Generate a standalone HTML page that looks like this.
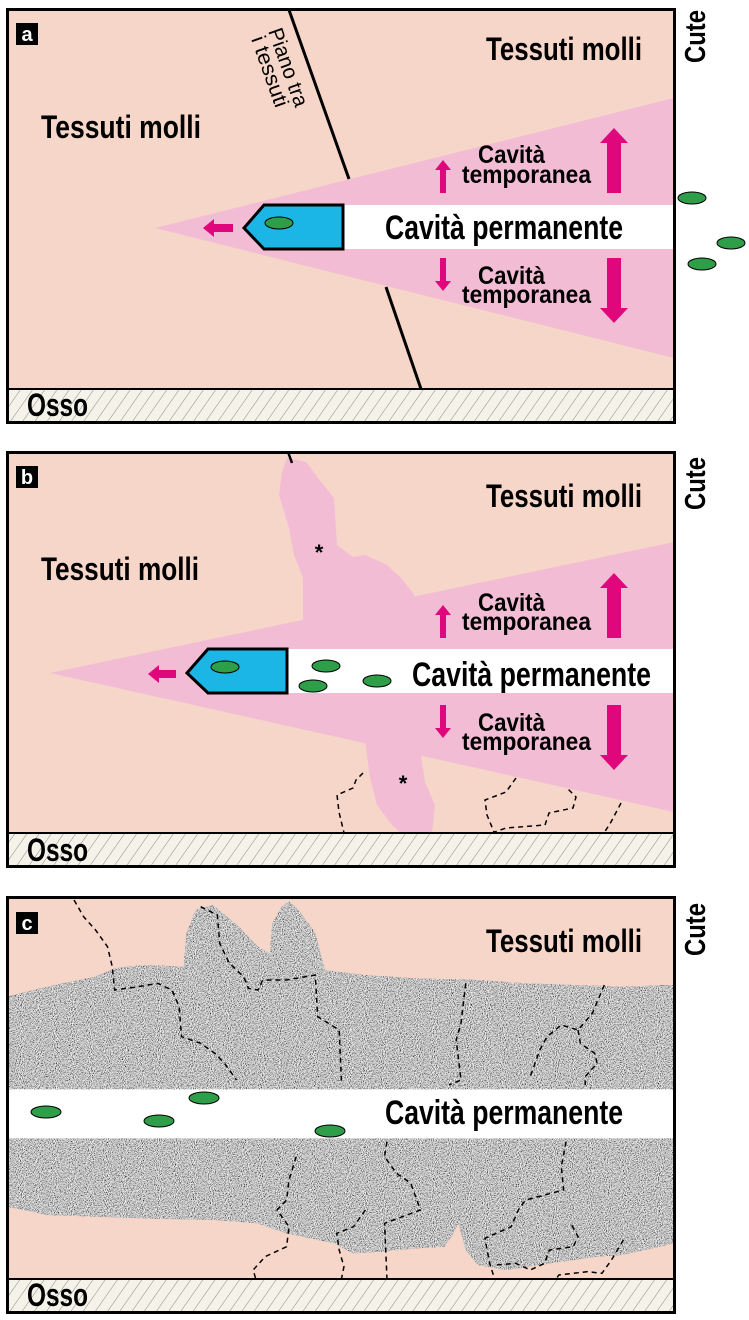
<!DOCTYPE html>
<html><head><meta charset="utf-8"><style>
html,body{margin:0;padding:0;background:#fff;}
svg{display:block;}
text{font-family:"Liberation Sans Narrow","Liberation Sans",sans-serif;font-weight:bold;fill:#000;}
</style></head><body>
<svg width="749" height="1320" viewBox="0 0 749 1320" xmlns="http://www.w3.org/2000/svg">
<defs>
<pattern id="h" width="10" height="10" patternUnits="userSpaceOnUse" patternTransform="rotate(35)">
<rect width="10" height="10" fill="#f5f3e9"/><line x1="0" y1="0" x2="0" y2="10" stroke="#8a8a80" stroke-width="1"/>
</pattern>
<filter id="n" x="0" y="0" width="100%" height="100%">
<feTurbulence type="fractalNoise" baseFrequency="0.45" numOctaves="2" seed="3" result="t"/>
<feColorMatrix in="t" type="matrix" values="2.2 0 0 0 -0.55  2.2 0 0 0 -0.55  2.2 0 0 0 -0.55  0 0 0 0 1" result="g"/>
<feComposite in="g" in2="SourceGraphic" operator="in"/>
</filter>
<g id="arrowsUp">
<polygon points="600,143 614,128 628,143 621,143 621,193 607,193 607,143" fill="#e0077d"/>
<polygon points="435,170 443,160 451,170 446,170 446,193 440,193 440,170" fill="#e0077d"/>
</g>
</defs>

<!-- ========== PANEL A ========== -->
<rect x="7.5" y="9.5" width="667" height="413" fill="#f6d6c8"/>
<polygon points="155,228 674,98 674,358" fill="#f3bcd5"/>
<rect x="343" y="205" width="331" height="44" fill="#fff"/>
<line x1="289" y1="10" x2="349" y2="179" stroke="#000" stroke-width="3"/>
<line x1="386" y1="287" x2="421" y2="389" stroke="#000" stroke-width="3"/>
<polygon points="244,228 264,205 343,205 343,249 264,249" fill="#1cb6e6" stroke="#000" stroke-width="3"/>
<ellipse cx="279" cy="223" rx="14" ry="6" fill="#2e9e48" stroke="#000" stroke-width="1"/>
<polygon points="203,228 214,219 214,224 233,224 233,232 214,232 214,237" fill="#e0077d"/>
<use href="#arrowsUp"/>
<polygon points="600,308 614,323 628,308 621,308 621,258 607,258 607,308" fill="#e0077d"/>
<polygon points="435,281 443,291 451,281 446,281 446,258 440,258 440,281" fill="#e0077d"/>
<rect x="7" y="389" width="668" height="33" fill="url(#h)" stroke="#000" stroke-width="2"/>
<rect x="7.5" y="9.5" width="667" height="413" fill="none" stroke="#000" stroke-width="3"/>
<rect x="16" y="23" width="22" height="22" fill="#000"/>
<text x="27" y="41" font-size="20" text-anchor="middle" style="fill:#fff">a</text>
<text x="486" y="60" font-size="32" textLength="156" lengthAdjust="spacingAndGlyphs">Tessuti molli</text>
<text x="41" y="138" font-size="32" textLength="160" lengthAdjust="spacingAndGlyphs">Tessuti molli</text>
<text x="385" y="239" font-size="34" textLength="238" lengthAdjust="spacingAndGlyphs">Cavità permanente</text>
<text x="478" y="163" font-size="25" textLength="67" lengthAdjust="spacingAndGlyphs">Cavità</text>
<text x="462" y="183" font-size="25" textLength="129" lengthAdjust="spacingAndGlyphs">temporanea</text>
<text x="478" y="284" font-size="25" textLength="67" lengthAdjust="spacingAndGlyphs">Cavità</text>
<text x="462" y="303" font-size="25" textLength="129" lengthAdjust="spacingAndGlyphs">temporanea</text>
<text x="27" y="416" font-size="32" textLength="61" lengthAdjust="spacingAndGlyphs">Osso</text>
<text x="705" y="63" font-size="29" textLength="53" lengthAdjust="spacingAndGlyphs" transform="rotate(-90 705 63)">Cute</text>
<text x="268" y="31" font-size="21" style="font-weight:normal" textLength="82" lengthAdjust="spacingAndGlyphs" transform="rotate(70.5 268 31)">Piano tra</text>
<text x="251" y="39" font-size="21" style="font-weight:normal" textLength="74" lengthAdjust="spacingAndGlyphs" transform="rotate(70.5 251 39)">i tessuti</text>
<ellipse cx="692" cy="198" rx="14" ry="6" fill="#2e9e48" stroke="#000" stroke-width="1"/>
<ellipse cx="731" cy="243" rx="14" ry="6" fill="#2e9e48" stroke="#000" stroke-width="1"/>
<ellipse cx="702" cy="264" rx="14" ry="6" fill="#2e9e48" stroke="#000" stroke-width="1"/>

<!-- ========== PANEL B ========== -->
<rect x="7.5" y="452.5" width="667" height="414" fill="#f6d6c8"/>
<polygon points="50,673 674,542 674,812" fill="#f3bcd5"/>
<polygon points="287,458 306,462 318,478 334,498 337,545 353,557 365,555 387,565 401,578 413,593 420,610 303,630 303,578 294,555 289,528 279,495 282,472" fill="#f3bcd5"/>
<polygon points="365,740 370,778 377,805 392,825 401,833 432,833 435,805 425,782 420,750" fill="#f3bcd5"/>
<rect x="287" y="649" width="387" height="44" fill="#fff"/>
<line x1="288" y1="452" x2="292" y2="463" stroke="#000" stroke-width="2.5"/>
<polygon points="187,673 208,649 287,649 287,693 208,693" fill="#1cb6e6" stroke="#000" stroke-width="3"/>
<ellipse cx="225" cy="667" rx="14" ry="6" fill="#2e9e48" stroke="#000" stroke-width="1"/>
<ellipse cx="326" cy="666" rx="14" ry="6" fill="#2e9e48" stroke="#000" stroke-width="1"/>
<ellipse cx="313" cy="686" rx="14" ry="6" fill="#2e9e48" stroke="#000" stroke-width="1"/>
<ellipse cx="377" cy="681" rx="14" ry="6" fill="#2e9e48" stroke="#000" stroke-width="1"/>
<polygon points="148,674 159,665 159,670 176,670 176,678 159,678 159,683" fill="#e0077d"/>
<g transform="translate(0,445)"><use href="#arrowsUp"/>
<polygon points="600,310 614,325 628,310 621,310 621,260 607,260 607,310" fill="#e0077d"/>
<polygon points="435,283 443,293 451,283 446,283 446,260 440,260 440,283" fill="#e0077d"/>
</g>
<g fill="none" stroke="#000" stroke-width="1.5" stroke-dasharray="5 4">
<polyline points="363,773 356,780 353,788 337,795 339,812 344,833"/>
<polyline points="516,778 506,792 485,800 487,815 494,832"/>
<polyline points="492,833 506,828 545,825 549,813 573,808 576,797 566,787"/>
<polyline points="621,803 611,822 604,833"/>
</g>
<text x="319" y="560" font-size="22" text-anchor="middle">*</text>
<text x="403" y="791" font-size="22" text-anchor="middle">*</text>
<rect x="7" y="833" width="668" height="34" fill="url(#h)" stroke="#000" stroke-width="2"/>
<rect x="7.5" y="452.5" width="667" height="414" fill="none" stroke="#000" stroke-width="3"/>
<rect x="16" y="466" width="22" height="22" fill="#000"/>
<text x="27" y="484" font-size="20" text-anchor="middle" style="fill:#fff">b</text>
<text x="486" y="507" font-size="32" textLength="156" lengthAdjust="spacingAndGlyphs">Tessuti molli</text>
<text x="41" y="580" font-size="32" textLength="158" lengthAdjust="spacingAndGlyphs">Tessuti molli</text>
<text x="412" y="686" font-size="34" textLength="239" lengthAdjust="spacingAndGlyphs">Cavità permanente</text>
<text x="478" y="611" font-size="25" textLength="67" lengthAdjust="spacingAndGlyphs">Cavità</text>
<text x="462" y="630" font-size="25" textLength="129" lengthAdjust="spacingAndGlyphs">temporanea</text>
<text x="478" y="731" font-size="25" textLength="67" lengthAdjust="spacingAndGlyphs">Cavità</text>
<text x="462" y="750" font-size="25" textLength="129" lengthAdjust="spacingAndGlyphs">temporanea</text>
<text x="27" y="861" font-size="32" textLength="61" lengthAdjust="spacingAndGlyphs">Osso</text>
<text x="705" y="510" font-size="29" textLength="53" lengthAdjust="spacingAndGlyphs" transform="rotate(-90 705 510)">Cute</text>

<!-- ========== PANEL C ========== -->
<rect x="7.5" y="897.5" width="667" height="415" fill="#f6d6c8"/>
<g transform="translate(0,890) scale(0.4777,0.33333)">
<polygon fill="#909090" points="15,320 100,290 200,260 240,235 300,225 385,230 390,130 410,60 445,45 470,75 500,110 540,170 565,190 570,100 590,50 605,35 625,60 660,130 680,240 760,255 870,265 1000,270 1100,280 1200,285 1300,290 1410,285 1410,1060 1350,1080 1300,1095 1250,1100 1150,1120 1060,1140 1000,1125 975,1080 960,1000 945,1040 930,1070 870,1075 800,1085 740,1090 700,1060 600,1030 540,1000 450,990 300,985 100,975 15,950"/>
<polygon filter="url(#n)" fill="#fff" points="15,320 100,290 200,260 240,235 300,225 385,230 390,130 410,60 445,45 470,75 500,110 540,170 565,190 570,100 590,50 605,35 625,60 660,130 680,240 760,255 870,265 1000,270 1100,280 1200,285 1300,290 1410,285 1410,1060 1350,1080 1300,1095 1250,1100 1150,1120 1060,1140 1000,1125 975,1080 960,1000 945,1040 930,1070 870,1075 800,1085 740,1090 700,1060 600,1030 540,1000 450,990 300,985 100,975 15,950"/>
<rect x="15" y="598" width="1395" height="147" fill="#fff"/>
<g fill="none" stroke="#000" stroke-width="1.5" stroke-dasharray="5 4">
<polyline vector-effect="non-scaling-stroke" points="155,30 175,80 200,120 225,170 235,230 240,300 290,290 330,280 360,300 375,350 380,440 420,460 450,490 470,520 495,570"/>
<polyline vector-effect="non-scaling-stroke" points="420,50 455,75 460,160 480,220 510,260 520,295 540,300 550,270 600,270 660,255 665,380 710,420 715,580"/>
<polyline vector-effect="non-scaling-stroke" points="975,280 965,400 955,450 965,570 940,585"/>
<polyline vector-effect="non-scaling-stroke" points="1265,285 1240,370 1210,420 1175,405 1145,440 1130,480 1110,560"/>
<polyline vector-effect="non-scaling-stroke" points="1210,420 1215,460 1245,490 1250,520 1225,560 1225,585"/>
<polyline vector-effect="non-scaling-stroke" points="620,800 605,870 600,930 580,960 605,1010 600,1070 555,1100 530,1140 535,1165"/>
<polyline vector-effect="non-scaling-stroke" points="765,960 740,1010 705,1030 710,1080 720,1130 715,1165"/>
<polyline vector-effect="non-scaling-stroke" points="810,755 805,800 830,850 860,880 880,960 805,1000 810,1165"/>
<polyline vector-effect="non-scaling-stroke" points="1185,755 1175,830 1180,900 1100,930 1085,960 1070,1010 1015,1045 1025,1120 1035,1165"/>
<polyline vector-effect="non-scaling-stroke" points="1040,1125 1080,1120 1110,1140 1140,1120 1150,1080 1200,1070 1210,1040 1195,1000"/>
<polyline vector-effect="non-scaling-stroke" points="1305,1050 1280,1110 1260,1150 1230,1145 1170,1155 1165,1165"/>
</g>
</g>
<ellipse cx="46" cy="1112" rx="15" ry="6" fill="#2e9e48" stroke="#000" stroke-width="1"/>
<ellipse cx="159" cy="1121" rx="15" ry="6" fill="#2e9e48" stroke="#000" stroke-width="1"/>
<ellipse cx="204" cy="1098" rx="15" ry="6" fill="#2e9e48" stroke="#000" stroke-width="1"/>
<ellipse cx="330" cy="1131" rx="15" ry="6" fill="#2e9e48" stroke="#000" stroke-width="1"/>
<rect x="7" y="1279" width="668" height="33" fill="url(#h)" stroke="#000" stroke-width="2"/>
<rect x="7.5" y="897.5" width="667" height="415" fill="none" stroke="#000" stroke-width="3"/>
<rect x="16" y="912" width="22" height="22" fill="#000"/>
<text x="27" y="930" font-size="20" text-anchor="middle" style="fill:#fff">c</text>
<text x="486" y="952" font-size="32" textLength="156" lengthAdjust="spacingAndGlyphs">Tessuti molli</text>
<text x="385" y="1124" font-size="34" textLength="238" lengthAdjust="spacingAndGlyphs">Cavità permanente</text>
<text x="27" y="1306" font-size="32" textLength="61" lengthAdjust="spacingAndGlyphs">Osso</text>
<text x="705" y="956" font-size="29" textLength="53" lengthAdjust="spacingAndGlyphs" transform="rotate(-90 705 956)">Cute</text>
</svg>
</body></html>
